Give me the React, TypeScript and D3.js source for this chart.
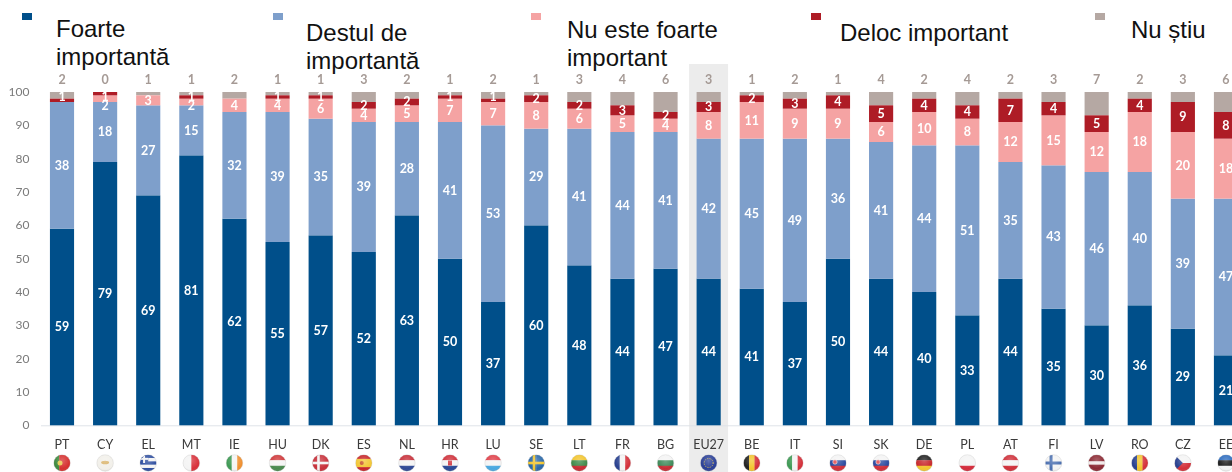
import React from "react";
import * as d3 from "d3";

const countries = ["PT","CY","EL","MT","IE","HU","DK","ES","NL","HR","LU","SE","LT","FR","BG","EU27","BE","IT","SI","SK","DE","PL","AT","FI","LV","RO","CZ","EE"];
const foarte = [59,79,69,81,62,55,57,52,63,50,37,60,48,44,47,44,41,37,50,44,40,33,44,35,30,36,29,21];
const destul = [38,18,27,15,32,39,35,39,28,41,53,29,41,44,41,42,45,49,36,41,44,51,35,43,46,40,39,47];
const nuFoarte = [0,2,3,2,4,4,6,4,5,7,7,8,6,5,4,8,11,9,9,6,10,8,12,15,12,18,20,18];
const deloc = [1,1,0,1,0,1,1,2,2,1,1,2,2,3,2,3,2,3,4,5,4,4,7,4,5,4,9,8];
const nuStiu = [2,0,1,1,2,1,1,3,2,1,2,1,3,4,6,3,1,2,1,4,2,4,2,3,7,2,3,6];
const yTicks = [0,10,20,30,40,50,60,70,80,90,100];

const seriesValues = [foarte, destul, nuFoarte, deloc];
const seriesColors = ["#00508a", "#7e9fcb", "#f5a3a3", "#ae1b25", "#b5a8a3"];

const flagH: Record<string, string[]> = {
  CY: ["#f2f0ea","#f2f0ea"], HU: ["#d0393b","#f4f4f4","#4a8a4f"], ES: ["#c8262a","#f3c736","#f3c736","#c8262a"],
  NL: ["#c8303a","#f4f4f4","#2f4a96"], HR: ["#d0303a","#f4f4f4","#2a4a96"], LU: ["#e0404a","#f4f4f4","#4aa8e0"],
  LT: ["#f2c52e","#3f8a4a","#c82c34"], BG: ["#f4f4f4","#3f8a5a","#c82c34"], SI: ["#f4f4f4","#2a4aa0","#d0303a"],
  SK: ["#f4f4f4","#2a4aa0","#d0303a"], DE: ["#222222","#c8282c","#f2c52e"], PL: ["#f4f4f4","#f4f4f4","#d42c3c"],
  AT: ["#d0303a","#f4f4f4","#d0303a"], LV: ["#8c2a34","#8c2a34","#f0e8e8","#8c2a34","#8c2a34"], EE: ["#2f6ec0","#1c1c1c","#f4f4f4"],
  EL: ["#2f4fa0","#f4f4f4","#2f4fa0","#f4f4f4","#2f4fa0"],
};
const flagV: Record<string, string[]> = {
  PT: ["#3f8a3f","#d6302f","#d6302f"], MT: ["#f4f4f4","#d8303a"], IE: ["#3f9a55","#f4f4f4","#f09030"],
  FR: ["#28408f","#f4f4f4","#d4303a"], BE: ["#222222","#f2c52e","#d4303a"], IT: ["#3f9a55","#f4f4f4","#d4303a"],
  RO: ["#28408f","#f2c52e","#d4303a"], EU27: ["#2a3f96","#2a3f96"], DK: ["#c8303a","#c8303a"], SE: ["#2a68a8","#2a68a8"],
  FI: ["#f4f4f4","#f4f4f4"], CZ: ["#f4f4f4","#f4f4f4"],
};
const legendLines = [
  { x: 56, ys: [37, 65], lines: ["Foarte", "importantă"], sx: 22 },
  { x: 306, ys: [41, 69], lines: ["Destul de", "importantă"], sx: 273 },
  { x: 567, ys: [38, 66], lines: ["Nu este foarte", "important"], sx: 531 },
  { x: 840, ys: [41], lines: ["Deloc important"], sx: 811 },
  { x: 1131, ys: [38], lines: ["Nu știu"], sx: 1095 },
];

const W = 1232, H = 472;
const y = d3.scaleLinear().domain([0, 100]).range([425.3, 92]);
const x = d3.scaleBand<string>().domain(countries).range([40.45, 40.45 + 43.11 * 28]).paddingInner(0.44).paddingOuter(0.22);
const fontLabel = "Lato, Carlito, 'Open Sans', sans-serif";

function Flag({ code, cx, cy, r }: { code: string; cx: number; cy: number; r: number }) {
  const id = `clip-${code}`;
  const h = flagH[code];
  const v = flagV[code];
  const d = 2 * r;
  const hs = h ? d3.scaleBand<number>().domain(d3.range(h.length)).range([cy - r, cy + r]) : null;
  const vs = v ? d3.scaleBand<number>().domain(d3.range(v.length)).range([cx - r, cx + r]) : null;
  return (
    <g>
      <clipPath id={id}><circle cx={cx} cy={cy} r={r} /></clipPath>
      <g clipPath={`url(#${id})`}>
        {h && h.map((c, i) => <rect key={i} x={cx - r} y={hs!(i)} width={d} height={hs!.bandwidth() + 0.3} fill={c} />)}
        {v && v.map((c, i) => <rect key={i} x={vs!(i)} y={cy - r} width={vs!.bandwidth() + 0.3} height={d} fill={c} />)}
        {code === "DK" && <><rect x={cx - 3.5} y={cy - r} width={2.6} height={d} fill="#f4f4f4" /><rect x={cx - r} y={cy - 1.3} width={d} height={2.6} fill="#f4f4f4" /></>}
        {code === "SE" && <><rect x={cx - 3.5} y={cy - r} width={2.6} height={d} fill="#f2c52e" /><rect x={cx - r} y={cy - 1.3} width={d} height={2.6} fill="#f2c52e" /></>}
        {code === "FI" && <><rect x={cx - 4} y={cy - r} width={3} height={d} fill="#4a6fb0" /><rect x={cx - r} y={cy - 1.5} width={d} height={3} fill="#4a6fb0" /></>}
        {code === "CZ" && <><rect x={cx - r} y={cy} width={d} height={r} fill="#d4303a" /><path d={`M${cx - r} ${cy - r}L${cx} ${cy}L${cx - r} ${cy + r}Z`} fill="#28408f" /></>}
        {code === "EL" && <><rect x={cx - r} y={cy - r} width={r} height={r} fill="#2f4fa0" /><rect x={cx - r} y={cy - r / 2 - 1} width={r} height={2} fill="#f4f4f4" /><rect x={cx - r / 2 - 1} y={cy - r} width={2} height={r} fill="#f4f4f4" /></>}
        {code === "PT" && <circle cx={cx - 2} cy={cy} r={2.5} fill="#e8c84a" />}
        {code === "CY" && <ellipse cx={cx} cy={cy - 0.5} rx={4} ry={1.8} fill="#d9b36a" />}
        {code === "EU27" && <circle cx={cx} cy={cy} r={4.5} fill="none" stroke="#e8c84a" strokeWidth={1} strokeDasharray="1 1.4" />}
        {code === "ES" && <circle cx={cx - 2} cy={cy} r={2} fill="#c8502a" />}
        {(code === "SI" || code === "SK") && <circle cx={cx - 3} cy={cy - 1} r={2.2} fill="#e24a50" stroke="#f4f4f4" strokeWidth={0.6} />}
        {code === "HR" && <rect x={cx - 2} y={cy - 2.5} width={4} height={5} fill="#d0303a" />}
      </g>
      <circle cx={cx} cy={cy} r={r} fill="url(#gloss)" stroke="#bbb" strokeWidth={0.3} />
    </g>
  );
}

export default function App() {
  const stacks = countries.map((_, i) => {
    let acc = 0;
    return seriesValues.map((s, k) => {
      const y0 = acc;
      acc += s[i];
      return { k, y0, y1: acc, v: s[i] };
    });
  });
  // label centres, walked from the top of the stack downward so tight labels do not collide
  const labelY = stacks.map((st) => {
    const out: number[] = [0, 0, 0, 0];
    let prev = -Infinity;
    [3, 2, 1, 0].forEach((k) => {
      const s = st[k];
      if (s.v === 0) return;
      let c = y((s.y0 + s.y1) / 2);
      if (prev === -Infinity) {
        c = s.v === 1 ? 96.5 : Math.max(c, y(100) + 4);
      }
      if (c < prev + 9.5) c = prev + 9.5;
      out[k] = c;
      prev = c;
    });
    return out;
  });
  return (
    <svg width={W} height={H} viewBox={`0 0 ${W} ${H}`} style={{ position: "absolute", left: 0, top: 0, background: "#fff" }}>
      <defs>
        <filter id="soft" x="-2%" y="-2%" width="104%" height="104%"><feGaussianBlur stdDeviation="0.45" /></filter>
        <radialGradient id="gloss" cx="0.5" cy="0.35" r="0.7">
          <stop offset="0" stopColor="#fff" stopOpacity="0.25" />
          <stop offset="0.7" stopColor="#fff" stopOpacity="0" />
          <stop offset="1" stopColor="#000" stopOpacity="0.18" />
        </radialGradient>
      </defs>
      <g filter="url(#soft)">
        <rect x={x("EU27")! - 7.5} y={64} width={39} height={408} fill="#ececec" />
        <line x1={41} x2={W} y1={y(0) + 0.5} y2={y(0) + 0.5} stroke="#dfe3e8" />
        {yTicks.map((t) => (
          <text key={t} x={29.5} y={y(t) + 4} textAnchor="end" fontSize={12} fill="#7a7a7a" fontFamily={fontLabel}>{t}</text>
        ))}
        {countries.map((c, i) => {
          const bx = x(c)!;
          const bw = x.bandwidth();
          const cx = bx + bw / 2;
          return (
            <g key={c}>
              <rect x={bx} y={y(100)} width={bw} height={y(stacks[i][3].y1) - y(100)} fill={seriesColors[4]} />
              {stacks[i].map((s) => s.v > 0 && (
                <rect key={s.k} x={bx} y={y(s.y1)} width={bw} height={y(s.y0) - y(s.y1)} fill={seriesColors[s.k]} />
              ))}
              {stacks[i].map((s) => s.v > 0 && (
                <text key={s.k} x={cx} y={labelY[i][s.k] + 4.4} textAnchor="middle" fontSize={12.5} fontWeight={700} fill="#fff" fontFamily={fontLabel}>{s.v}</text>
              ))}
              <text x={cx} y={83.5} textAnchor="middle" fontSize={12.5} fontWeight={700} fill="#a59a95" fontFamily={fontLabel}>{nuStiu[i]}</text>
              <text x={cx} y={448.5} textAnchor="middle" fontSize={12.5} fill="#3a3a3a" fontFamily={fontLabel}>{c}</text>
              <Flag code={c} cx={cx} cy={463} r={8.3} />
            </g>
          );
        })}
        {legendLines.map((l, i) => (
          <rect key={i} x={l.sx} y={13} width={10} height={7} fill={seriesColors[i]} />
        ))}
      </g>
      {legendLines.map((l, i) => (
        <text key={i} fontSize={24} fill="#111" fontFamily="'Liberation Sans', Arial, sans-serif">
          {l.lines.map((t, j) => <tspan key={j} x={l.x} y={l.ys[j]}>{t}</tspan>)}
        </text>
      ))}
    </svg>
  );
}
